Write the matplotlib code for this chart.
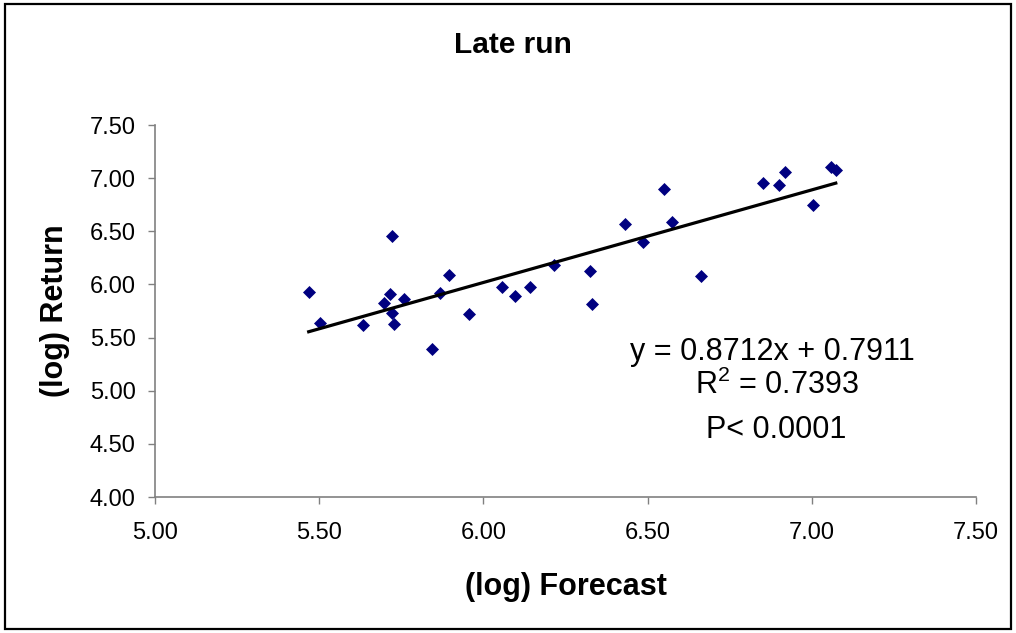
import matplotlib
matplotlib.use("Agg")
import matplotlib.pyplot as plt
from matplotlib.patches import Rectangle

# ---------- DATA ----------
forecast = [5.468, 5.503, 5.633, 5.723, 5.716, 5.697, 5.723, 5.728, 5.757, 5.845,
            5.869, 5.894, 5.957, 6.058, 6.095, 6.141, 6.214, 6.325, 6.331, 6.432,
            6.485, 6.550, 6.575, 6.664, 6.852, 6.899, 6.917, 7.005, 7.058, 7.073]
ret = [5.925, 5.636, 5.614, 6.455, 5.906, 5.821, 5.733, 5.629, 5.859, 5.391,
       5.921, 6.090, 5.723, 5.977, 5.890, 5.977, 6.182, 6.125, 5.812, 6.568,
       6.395, 6.895, 6.587, 6.075, 6.951, 6.932, 7.057, 6.750, 7.102, 7.076]

slope, intercept = 0.8712, 0.7911
x_ticks = [5.00, 5.50, 6.00, 6.50, 7.00, 7.50]
y_ticks = [4.00, 4.50, 5.00, 5.50, 6.00, 6.50, 7.00, 7.50]
# --------------------------

plt.rcParams["font.family"] = ["Liberation Sans", "DejaVu Sans"]
plt.rcParams["mathtext.fontset"] = "custom"
plt.rcParams["mathtext.rm"] = "Liberation Sans"

W, H = 1016, 633
fig = plt.figure(figsize=(W / 100, H / 100), dpi=100)
fig.patch.set_facecolor("white")

ax = fig.add_axes([155 / W, 1 - 497 / H, (976 - 155) / W, (497 - 125) / H])

ax.scatter(forecast, ret, marker="D", s=44, color="#000080", linewidths=0, zorder=3)

x0, x1 = min(forecast), max(forecast)
ax.plot([x0, x1], [slope * x0 + intercept, slope * x1 + intercept],
        color="black", lw=2.3, zorder=4)

ax.set_xlim(5.0, 7.5)
ax.set_ylim(4.0, 7.5)
ax.set_xticks(x_ticks)
ax.set_yticks(y_ticks)
ax.set_xticklabels([f"{v:.2f}" for v in x_ticks])
ax.set_yticklabels([f"{v:.2f}" for v in y_ticks])

for s in ["top", "right"]:
    ax.spines[s].set_visible(False)
for s in ["left", "bottom"]:
    ax.spines[s].set_color("#808080")
    ax.spines[s].set_linewidth(1.2)

ax.tick_params(axis="both", direction="out", length=5, width=1, color="#808080",
               labelsize=17, labelcolor="black")
ax.tick_params(axis="x", pad=13)
ax.tick_params(axis="y", pad=9)

# labels / title
fig.text(513 / W, 1 - 45 / H, "Late run", ha="center", va="center",
         fontsize=21.5, fontweight="bold")
fig.text(566 / W, 1 - 587 / H, "(log) Forecast", ha="center", va="center",
         fontsize=22, fontweight="bold")
fig.text(55 / W, 1 - 311 / H, "(log) Return", ha="center", va="center",
         rotation=90, fontsize=22, fontweight="bold")

# regression annotation
fig.text(772 / W, 1 - 360 / H, "y = 0.8712x + 0.7911", ha="center", va="baseline",
         fontsize=22)
fig.text(777 / W, 1 - 394 / H, r"R$^{\mathregular{2}}$ = 0.7393", ha="center",
         va="baseline", fontsize=22)
fig.text(776 / W, 1 - 438 / H, "P< 0.0001", ha="center", va="baseline",
         fontsize=22)

# chart border
fig.patches.append(Rectangle((5 / W, 4 / H), (1011 - 5) / W, (629 - 4) / H,
                             transform=fig.transFigure, fill=False,
                             edgecolor="black", linewidth=1.6))

fig.savefig("out.png", dpi=100, facecolor="white")
